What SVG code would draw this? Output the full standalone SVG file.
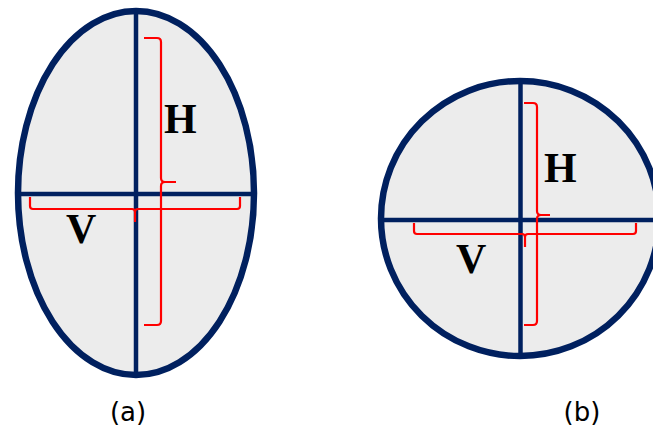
<svg xmlns="http://www.w3.org/2000/svg" width="653" height="430" viewBox="0 0 653 430">
<style>
.shape{fill:#ececec;stroke:#00205f;stroke-width:6.5}
.axis{stroke:#00205f;stroke-width:4.5}
.brace{fill:none;stroke:#ff0000;stroke-width:2.2;stroke-linejoin:round}
.lbl{font-family:"Times New Roman","Liberation Serif",serif;font-weight:bold;font-size:42px;fill:#000}
.cap{font-family:"DejaVu Sans",sans-serif;font-size:26px;fill:#000;text-anchor:middle}
</style>
<rect width="653" height="430" fill="#fff"/>
<g id="ellipse-a">
<ellipse class="shape" cx="136" cy="193" rx="118" ry="182"/>
<line class="axis" x1="136" y1="11" x2="136" y2="375"/>
<line class="axis" x1="18" y1="194" x2="254" y2="194"/>
</g>
<g id="circle-b">
<ellipse class="shape" cx="520" cy="218.5" rx="139" ry="137.5"/>
<line class="axis" x1="520.5" y1="81" x2="520.5" y2="356"/>
<line class="axis" x1="381" y1="220" x2="659" y2="220"/>
</g>
<g id="connectors">
<path class="brace" d="M144,38 L157,38 Q161,38 161,42 L161,178 Q161,182 165,182 L176,182 M161,186 Q161,182 165,182 M161,186 L161,321 Q161,325 157,325 L144,325"/>
<path class="brace" d="M30,197 L30,206 Q30,209 33,209 L132,209 Q135,209 135,212 L135,222 M135,212 Q135,209 138,209 L237,209 Q240,209 240,206 L240,197"/>
<path class="brace" d="M524,103 L533,103 Q537,103 537,107 L537,211 Q537,215 541,215 L550,215 M537,219 Q537,215 541,215 M537,219 L537,321 Q537,325 533,325 L524,325"/>
<path class="brace" d="M414,223 L414,231 Q414,234 417,234 L522,234 Q525,234 525,237 L525,247 M525,237 Q525,234 528,234 L633,234 Q636,234 636,231 L636,223"/>
</g>
<g id="labels">
<text class="lbl" x="164" y="133">H</text>
<text class="lbl" x="66" y="243">V</text>
<text class="lbl" x="544" y="182">H</text>
<text class="lbl" x="456" y="273">V</text>
<text class="cap" x="128" y="421">(a)</text>
<text class="cap" x="582" y="421">(b)</text>
</g>
</svg>
